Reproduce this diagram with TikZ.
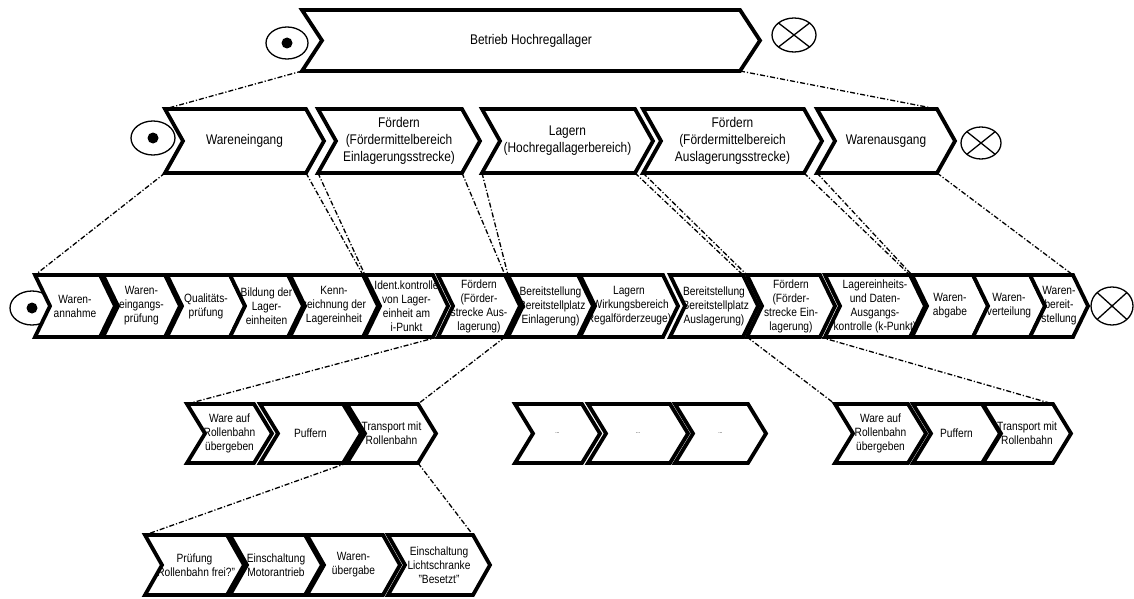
\documentclass[tikz,border=0pt]{standalone}
\usepackage{fontspec}
\setmainfont{Liberation Sans}[FakeStretch=0.85]
\usetikzlibrary{shapes.geometric,backgrounds}

% One process step drawn as a chevron: #1 text style, #2 name,
% #3 left x, #4 tip x, #5 top y, #6 bottom y, #7 label; \cd is the point depth.
\newcommand\procstep[7][]{%
  \path (#3,#5) coordinate (#2-tl)
        ({#4-\cd},#5) coordinate (#2-tr)
        (#4,{(#5+#6)/2}) coordinate (#2-tip)
        ({#4-\cd},#6) coordinate (#2-br)
        (#3,#6) coordinate (#2-bl)
        ({#3+\cd},{(#5+#6)/2}) coordinate (#2-notch);
  \fill[white] (#2-tl) -- (#2-tr) -- (#2-tip) -- (#2-br) -- (#2-bl) -- (#2-notch) -- cycle;
  \begin{scope}
    \clip (#2-tl) -- (#2-tr) -- (#2-tip) -- (#2-br) -- (#2-bl) -- (#2-notch) -- cycle;
    \node[steptext,#1] (#2) at ({(#3+#4)/2},{(#5+#6)/2}) {#7};
  \end{scope}
  \draw[stepline] (#2-tl) -- (#2-tr) -- (#2-tip) -- (#2-br) -- (#2-bl) -- (#2-notch) -- cycle;
}

\tikzset{
  stepline/.style={line width=3.8pt, line join=miter},
  steptext/.style={align=center, inner sep=0pt, font=\fontsize{12}{14}\selectfont},
  bigtext/.style={font=\fontsize{14}{17}\selectfont},
  tinytext/.style={font=\fontsize{6}{7}\selectfont},
  conn/.style={line width=1.3pt, dash pattern=on 5pt off 2pt on 1.2pt off 2pt},
  evt/.style={ellipse, draw, line width=1.3pt, fill=white, inner sep=0pt},
  startev/.style={evt, path picture={\fill[black] (path picture bounding box.center) circle (5.5pt);}},
  endev/.style={evt, path picture={\draw[black, line width=1.3pt]
      (path picture bounding box.north west) -- (path picture bounding box.south east)
      (path picture bounding box.south west) -- (path picture bounding box.north east);}}
}

\begin{document}
\begin{tikzpicture}[x=1pt, y=-1pt]
\useasboundingbox (0,0) rectangle (1134,599);

% start and end events
\node[startev, minimum width=42pt, minimum height=32pt] (s1) at (287,43) {};
\node[endev, minimum width=44pt, minimum height=34pt] (e1) at (794,35) {};
\node[startev, minimum width=44pt, minimum height=34pt] (s2) at (153,138) {};
\node[endev, minimum width=40pt, minimum height=32pt] (e2) at (981,143) {};
\node[startev, minimum width=44pt, minimum height=34pt] (s3) at (32,308) {};
\node[endev, minimum width=42pt, minimum height=38pt] (e3) at (1112,306) {};

% level 1
\def\cd{20}
\procstep[bigtext]{top}{302}{760}{10}{71}{Betrieb Hochregallager}

% level 2
\def\cd{18}
\procstep[bigtext]{ra}{165}{324}{109}{173}{Wareneingang}
\procstep[bigtext]{rb}{318}{480}{109}{173}{Fördern\\(Fördermittelbereich\\Einlagerungsstrecke)}
\procstep[bigtext]{rc}{482}{653}{109}{173}{Lagern\\(Hochregallagerbereich)}
\procstep[bigtext]{rd}{643}{822}{109}{173}{Fördern\\(Fördermittelbereich\\Auslagerungsstrecke)}
\procstep[bigtext]{re}{817}{955}{109}{173}{Warenausgang}

% level 3
\def\cd{15}
\procstep{c1}{35}{115}{275}{337}{Waren-\\annahme}
\procstep{c2}{103}{180}{275}{337}{Waren-\\eingangs-\\prüfung}
\procstep{c3}{167}{245}{275}{337}{Qualitäts-\\prüfung}
\procstep{c4}{230}{303}{275}{337}{Bildung der\\Lager-\\einheiten}
\procstep{c5}{290}{378}{275}{337}{Kenn-\\zeichnung der\\Lagereinheit}
\procstep{c6}{365}{448}{275}{337}{Ident.kontrolle\\von Lager-\\einheit am\\i-Punkt}
\procstep{c7}{438}{520}{275}{337}{Fördern\\(Förder-\\strecke Aus-\\lagerung)}
\procstep{c8}{508}{593}{275}{337}{Bereitstellung\\(Bereitstellplatz\\Einlagerung)}
\procstep{c9}{580}{678}{275}{337}{Lagern\\(Wirkungsbereich\\Regalförderzeuge)}
\procstep{c10}{670}{758}{275}{337}{Bereitstellung\\(Bereitstellplatz\\Auslagerung)}
\procstep{c11}{747}{835}{275}{337}{Fördern\\(Förder-\\strecke Ein-\\lagerung)}
\procstep{c12}{825}{925}{275}{337}{Lagereinheits-\\und Daten-\\Ausgangs-\\kontrolle (k-Punkt)}
\procstep{c13}{912}{988}{275}{337}{Waren-\\abgabe}
\procstep{c14}{973}{1045}{275}{337}{Waren-\\verteilung}
\procstep{c15}{1030}{1088}{275}{337}{Waren-\\bereit-\\stellung}

% level 4
\def\cd{18}
\procstep{d1}{187}{272}{404}{463}{Ware auf\\Rollenbahn\\übergeben}
\procstep{d2}{260}{361}{404}{463}{Puffern}
\procstep{d3}{347}{436}{404}{463}{Transport mit\\Rollenbahn}
\procstep[tinytext]{d4}{515}{600}{404}{463}{...}
\procstep[tinytext]{d5}{588}{688}{404}{463}{...}
\procstep[tinytext]{d6}{675}{766}{404}{463}{...}
\procstep{d7}{835}{926}{404}{463}{Ware auf\\Rollenbahn\\übergeben}
\procstep{d8}{913}{1000}{404}{463}{Puffern}
\procstep{d9}{983}{1071}{404}{463}{Transport mit\\Rollenbahn}

% level 5
\def\cd{17}
\procstep{f1}{145}{244}{535}{595}{Prüfung\\"Rollenbahn frei?"}
\procstep{f2}{230}{322}{535}{595}{Einschaltung\\Motorantrieb}
\procstep{f3}{307}{400}{535}{595}{Waren-\\übergabe}
\procstep{f4}{388}{490}{535}{595}{Einschaltung\\Lichtschranke\\"Besetzt"}

% refinement links between the levels
\begin{pgfonlayer}{background}
\draw[conn] (top-bl) -- (ra-tl);
\draw[conn] (top-br) -- (re-tr);
\draw[conn] (ra-bl) -- (c1-tl);
\draw[conn] (ra-br) -- (c5-tr);
\draw[conn] (rb-bl) -- (c6-tl);
\draw[conn] (rb-br) -- (c7-tr);
\draw[conn] (rc-bl) -- (c8-tl);
\draw[conn] (rc-br) -- (c10-tr);
\draw[conn] (rd-bl) -- (c11-tl);
\draw[conn] (rd-br) -- (c12-tr);
\draw[conn] (re-bl) -- (c13-tl);
\draw[conn] (re-br) -- (c15-tr);
\draw[conn] (c7-bl) -- (d1-tl);
\draw[conn] (c7-br) -- (d3-tr);
\draw[conn] (c11-bl) -- (d7-tl);
\draw[conn] (c11-br) -- (d9-tr);
\draw[conn] (d3-bl) -- (f1-tl);
\draw[conn] (d3-br) -- (f4-tr);
\end{pgfonlayer}
\end{tikzpicture}
\end{document}
